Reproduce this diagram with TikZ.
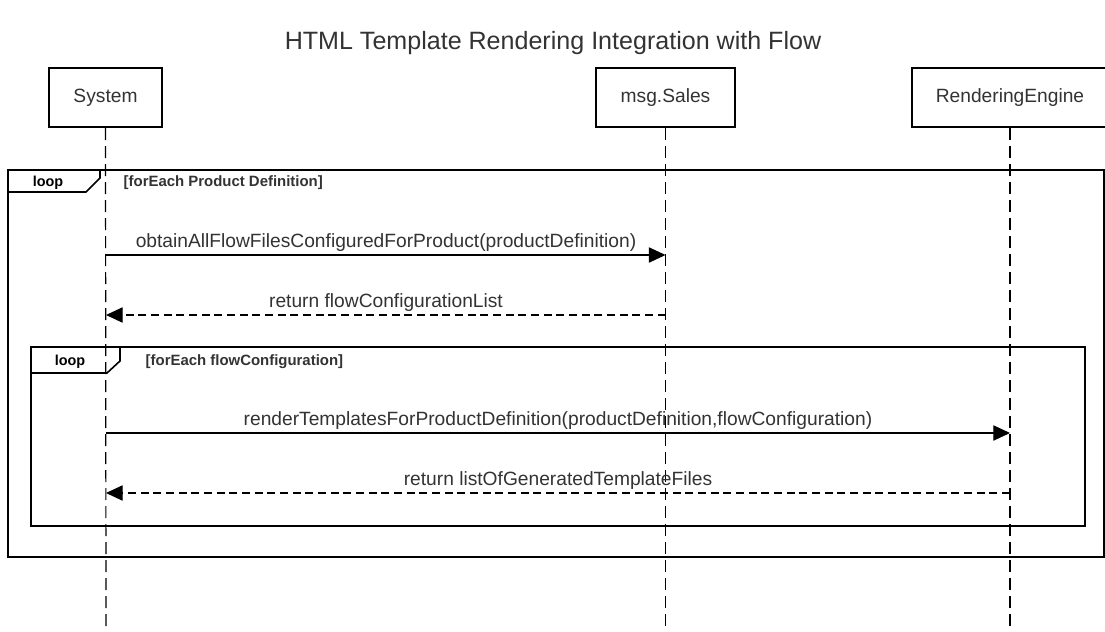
\documentclass[tikz,border=0pt]{standalone}
\usepackage{fontspec}
\setmainfont{Liberation Sans}
\usetikzlibrary{arrows.meta}
\definecolor{txt}{HTML}{333333}
\begin{document}
\begin{tikzpicture}[x=0.75pt,y=-0.75pt,
  part/.style={draw=black,line width=1.8pt,minimum height=44pt,inner sep=0pt,
    font=\fontsize{14.4}{17}\selectfont,text=txt},
  life/.style={line width=0.9pt,dash pattern=on 9pt off 4.5pt},
  msgline/.style={line width=0.8pt,-{Triangle[length=12.5pt,width=11.5pt]}},
  retline/.style={msgline,dash pattern=on 6pt off 3.5pt},
  loopframe/.style={line width=1.6pt},
  lbl/.style={font=\fontsize{14.4}{17}\selectfont,text=txt,anchor=base},
  looptag/.style={font=\bfseries\fontsize{10.8}{13}\selectfont,text=black,anchor=base},
  guard/.style={font=\bfseries\fontsize{11.2}{13}\selectfont,text=txt,anchor=base west}]
\useasboundingbox (0,0) rectangle (1105,631);
\fill[white] (0,0) rectangle (1105,631);

% title
\node[font=\fontsize{18.8}{22}\selectfont,text=txt,anchor=base] (title) at (553,50) {HTML Template Rendering Integration with Flow};

% participants
\node[part,minimum width=84.75pt] (sys) at (105.5,97.5) {System};
\node[part,minimum width=104.25pt] (sales) at (665.5,97.5) {msg.Sales};
\node[part,minimum width=147pt] (eng) at (1010,97.5) {RenderingEngine};

% lifeline ends
\coordinate (sysEnd) at (106,631);
\coordinate (salesEnd) at (665.5,631);
\coordinate (engEnd) at (1010,631);
\draw[life] (sys.south) -- (sysEnd);
\draw[life] (sales.south) -- (salesEnd);
\draw[life] (eng.south) -- (engEnd);

% outer loop
\draw[loopframe] (8,170) rectangle (1104,557);
\draw[line width=1.2pt] (8,170) -- (100,170) -- (100,178) -- (86,192) -- (8,192);
\node[looptag] (outerTag) at (48,186) {loop};
\node[guard] (outerGuard) at (119,186) {[forEach Product Definition]};

% inner loop
\draw[loopframe] (31,347) rectangle (1085,526);
\draw[line width=1.2pt] (31,347) -- (120,347) -- (120,361) -- (107,373) -- (31,373);
\node[looptag] (innerTag) at (70,365) {loop};
\node[guard] (innerGuard) at (141,365) {[forEach flowConfiguration]};

% message anchor points
\coordinate (s1) at (106,255);   \coordinate (m1) at (665.5,255);
\coordinate (m2) at (665.5,315); \coordinate (s2) at (106,315);
\coordinate (s3) at (106,433);   \coordinate (e3) at (1010,433);
\coordinate (e4) at (1010,493);  \coordinate (s4) at (106,493);

\draw[msgline] (s1) -- (m1);
\node[lbl] (l1) at (386,247) {obtainAllFlowFilesConfiguredForProduct(productDefinition)};
\draw[retline] (m2) -- (s2);
\node[lbl] (l2) at (386,307) {return flowConfigurationList};
\draw[msgline] (s3) -- (e3);
\node[lbl] (l3) at (558,425) {renderTemplatesForProductDefinition(productDefinition,flowConfiguration)};
\draw[retline] (e4) -- (s4);
\node[lbl] (l4) at (558,485) {return listOfGeneratedTemplateFiles};
\end{tikzpicture}
\end{document}
